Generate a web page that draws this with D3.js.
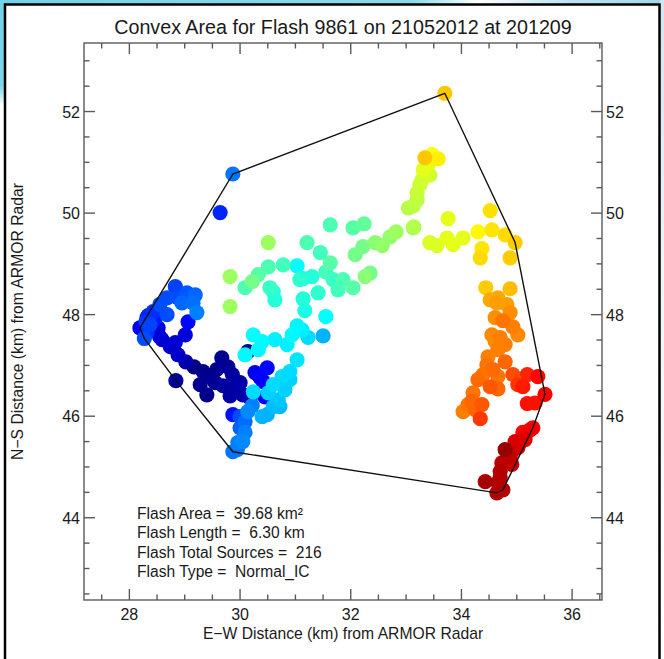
<!DOCTYPE html>
<html>
<head>
<meta charset="utf-8">
<script src="https://cdn.jsdelivr.net/npm/d3@7"></script>
<style>
  html, body { margin: 0; padding: 0; background: #fff; }
  svg { display: block; font-family: "Liberation Sans", Arial, Helvetica, sans-serif; }
</style>
</head>
<body>
<svg id="chart" width="664" height="659"></svg>
<script>
// VHF source locations of the flash (km east / north of the radar) and their relative time in the flash
const eastKm = [29.17,29.33,29.46,29.55,29.67,29.78,29.69,29.40,28.84,29.91,
  30.05,30.14,29.02,29.86,30.00,30.18,29.82,28.88,28.74,28.83,
  28.55,28.59,28.52,28.19,28.32,30.27,30.42,30.45,30.36,30.49,
  29.06,29.87,28.43,28.32,28.68,28.27,28.83,28.68,28.95,29.04,
  29.19,29.15,29.22,28.30,28.37,28.34,28.55,29.64,29.87,30.00,
  30.14,30.09,30.05,29.96,29.95,29.87,30.00,30.22,30.40,30.49,
  30.60,30.72,30.69,30.60,30.76,30.90,31.03,30.24,30.85,30.63,
  30.33,30.09,30.24,30.40,31.23,31.50,31.12,31.03,31.55,30.81,
  30.90,30.51,31.03,30.94,31.14,31.30,31.41,31.14,31.17,30.60,
  30.63,31.08,31.68,30.51,30.33,30.22,30.09,30.78,30.54,31.77,
  31.86,32.04,31.63,31.21,31.45,31.63,32.04,32.24,32.35,32.26,
  32.08,32.22,32.44,32.57,32.82,32.71,33.13,33.04,33.13,33.20,
  33.29,33.43,33.31,33.47,33.58,33.34,33.25,33.14,30.51,29.82,
  29.82,33.56,33.74,33.76,33.85,34.03,33.43,33.70,34.30,34.52,
  34.55,34.79,34.97,34.37,34.34,34.88,34.44,34.88,34.66,34.64,
  34.82,34.88,34.61,34.75,34.93,35.02,34.70,34.61,34.66,34.48,
  34.46,34.79,34.39,34.66,34.52,34.66,34.21,34.19,34.37,34.03,
  34.25,34.34,34.93,35.02,35.11,35.19,35.38,35.51,35.33,35.19,
  35.11,35.24,35.15,35.06,34.97,34.79,34.84,34.73,34.91,34.70,
  34.43,34.66,34.64,34.75,35.29,34.91,35.02,29.01,29.28,29.58,
  28.46,28.88,28.27,34.52,34.55,34.79,34.30,34.12,34.57,33.40,
  33.20,35.15,34.88,34.70,30.09,31.55];

const northKm = [46.97,46.88,46.78,46.66,47.15,46.97,46.60,46.42,46.70,46.58,
  46.42,47.27,47.07,46.82,46.66,46.36,46.40,47.21,47.37,47.45,
  47.56,47.51,47.74,47.74,47.94,46.86,46.68,46.38,46.76,46.95,
  47.86,46.03,48.06,47.64,48.00,47.53,48.55,48.33,48.23,48.43,
  48.39,48.23,48.04,47.86,47.80,47.98,48.20,50.01,50.77,45.99,
  46.09,45.68,45.50,45.48,45.34,45.30,45.77,46.21,45.99,46.03,
  46.19,46.19,46.32,46.62,46.78,46.88,47.11,46.48,47.41,47.51,
  47.31,47.21,47.60,47.47,47.55,47.58,47.70,47.78,47.96,46.52,
  46.72,46.46,48.96,47.60,48.71,48.75,48.43,48.31,48.08,48.45,
  48.29,48.69,48.69,48.94,48.79,48.65,48.53,48.98,48.53,48.49,
  48.69,48.53,49.77,49.42,49.22,49.02,49.71,49.79,48.82,48.75,
  49.18,49.34,49.42,49.36,49.63,49.53,49.71,50.10,50.14,50.40,
  50.66,50.75,50.85,51.15,51.07,51.09,50.56,49.73,49.42,48.75,
  48.16,49.36,49.51,49.89,49.38,49.51,49.42,52.36,49.63,50.05,
  49.67,49.57,49.42,49.30,49.12,49.12,48.53,48.51,48.33,48.23,
  48.20,48.04,47.94,47.88,47.76,47.60,47.55,47.47,47.31,47.17,
  47.01,47.07,46.82,46.78,46.58,46.54,46.46,46.29,46.23,46.09,
  46.13,45.95,46.82,46.62,46.58,46.82,46.78,46.43,46.26,46.25,
  45.68,45.73,45.54,45.48,45.50,45.34,45.20,45.08,45.05,44.91,
  44.71,44.69,44.49,44.55,45.77,45.30,45.38,47.60,46.62,46.92,
  47.90,48.33,47.70,48.29,47.60,47.41,46.72,46.23,46.92,50.95,
  50.26,45.62,45.18,44.79,45.89,48.84];

const timeFrac = [0.00,0.01,0.015,0.02,0.02,0.025,0.03,0.01,0.03,0.035,
  0.04,0.02,0.045,0.03,0.04,0.05,0.035,0.07,0.075,0.08,
  0.085,0.085,0.09,0.10,0.11,0.11,0.115,0.12,0.12,0.13,
  0.13,0.14,0.17,0.17,0.20,0.20,0.19,0.20,0.225,0.21,
  0.225,0.235,0.25,0.18,0.19,0.16,0.20,0.16,0.24,0.20,
  0.26,0.25,0.26,0.25,0.24,0.24,0.22,0.25,0.30,0.30,
  0.31,0.31,0.32,0.34,0.34,0.34,0.35,0.34,0.36,0.36,
  0.37,0.37,0.375,0.37,0.34,0.30,0.36,0.365,0.375,0.33,
  0.33,0.33,0.375,0.37,0.40,0.41,0.42,0.41,0.40,0.41,
  0.41,0.42,0.43,0.45,0.46,0.49,0.45,0.44,0.43,0.44,
  0.45,0.46,0.45,0.45,0.44,0.46,0.46,0.47,0.49,0.51,
  0.49,0.49,0.51,0.52,0.53,0.52,0.53,0.55,0.56,0.57,
  0.58,0.58,0.60,0.62,0.64,0.68,0.575,0.55,0.53,0.53,
  0.53,0.59,0.60,0.60,0.60,0.60,0.59,0.68,0.63,0.655,
  0.65,0.66,0.675,0.65,0.66,0.675,0.675,0.69,0.71,0.72,
  0.72,0.735,0.735,0.76,0.75,0.74,0.75,0.74,0.75,0.75,
  0.76,0.775,0.76,0.76,0.79,0.775,0.76,0.775,0.79,0.75,
  0.775,0.82,0.80,0.825,0.85,0.84,0.87,0.88,0.86,0.86,
  0.87,0.89,0.90,0.91,0.91,0.975,0.94,0.94,0.93,0.95,
  0.96,0.95,0.95,0.95,0.88,0.92,0.91,0.09,0.02,0.015,
  0.15,0.20,0.12,0.71,0.74,0.75,0.77,0.76,0.77,0.60,
  0.56,0.89,0.93,0.95,0.23,0.44];

const xTicks = [28, 30, 32, 34, 36];
const yTicks = [44, 46, 48, 50, 52];
const minorStep = 0.5;
const xDomain = [27.18, 36.54];
const yDomain = [42.38, 53.35];

const flashId = "9861", flashDate = "21052012", flashTime = "201209";
const flashArea = "39.68";
const flashLength = "6.30";
const flashType = "Normal_IC";

const W = 664, H = 659;
const plot = { left: 84, right: 602, top: 43, bottom: 600 };

const svg = d3.select("#chart");

// slide backdrop around the white panel
const defs = svg.append("defs");
const gTop = defs.append("linearGradient").attr("id", "topStrip").attr("x1", 0).attr("x2", 1);
gTop.append("stop").attr("offset", 0).attr("stop-color", "#72d2e6");
gTop.append("stop").attr("offset", 0.62).attr("stop-color", "#8adbe9");
gTop.append("stop").attr("offset", 0.72).attr("stop-color", "#ffffff");
gTop.append("stop").attr("offset", 0.85).attr("stop-color", "#bfe3f0");
gTop.append("stop").attr("offset", 1).attr("stop-color", "#9fd9ea");
const gLeft = defs.append("linearGradient").attr("id", "leftStrip").attr("x1", 0).attr("x2", 0).attr("y1", 0).attr("y2", 1);
gLeft.append("stop").attr("offset", 0).attr("stop-color", "#72d2e6");
gLeft.append("stop").attr("offset", 0.13).attr("stop-color", "#7fd6e8");
gLeft.append("stop").attr("offset", 0.16).attr("stop-color", "#ffffff");
gLeft.append("stop").attr("offset", 1).attr("stop-color", "#ffffff");
const gRight = defs.append("linearGradient").attr("id", "rightStrip").attr("x1", 0).attr("x2", 0).attr("y1", 0).attr("y2", 1);
gRight.append("stop").attr("offset", 0).attr("stop-color", "#cfe6f0");
gRight.append("stop").attr("offset", 0.4).attr("stop-color", "#eef3f6");
gRight.append("stop").attr("offset", 1).attr("stop-color", "#ffffff");

svg.append("rect").attr("width", W).attr("height", H).attr("fill", "#fff");
svg.append("rect").attr("x", 0).attr("y", 0).attr("width", W).attr("height", 5).attr("fill", "url(#topStrip)");
svg.append("rect").attr("x", 0).attr("y", 0).attr("width", 5).attr("height", H).attr("fill", "url(#leftStrip)");
svg.append("rect").attr("x", 660).attr("y", 0).attr("width", 4).attr("height", H).attr("fill", "url(#rightStrip)");
svg.append("rect").attr("x", 5).attr("y", 4.5).attr("width", 654.5).attr("height", H + 20)
  .attr("fill", "#fff").attr("stroke", "#000").attr("stroke-width", 2.5);

const x = d3.scaleLinear().domain(xDomain).range([plot.left, plot.right]);
const y = d3.scaleLinear().domain(yDomain).range([plot.bottom, plot.top]);

// jet colour table, indexed by time within the flash
function jet(t) {
  const c = v => Math.max(0, Math.min(1, v));
  return d3.rgb(255 * c(1.5 - Math.abs(4 * t - 3)),
                255 * c(1.5 - Math.abs(4 * t - 2)),
                255 * c(1.5 - Math.abs(4 * t - 1)));
}

const sources = eastKm.map((e, i) => ({ e, n: northKm[i], t: timeFrac[i] }))
  .sort((a, b) => a.t - b.t);

const plotG = svg.append("g");
plotG.selectAll("circle.src").data(sources).join("circle")
  .attr("class", "src")
  .attr("cx", d => x(d.e))
  .attr("cy", d => y(d.n))
  .attr("r", 7.6)
  .attr("fill", d => jet(d.t));

// convex hull of all sources
const hull = d3.polygonHull(sources.map(d => [d.e, d.n]));
plotG.append("path")
  .attr("d", d3.line().x(p => x(p[0])).y(p => y(p[1])).curve(d3.curveLinearClosed)(hull))
  .attr("fill", "none").attr("stroke", "#111").attr("stroke-width", 1.4);

// frame with inward ticks on all four sides
const axisColor = "#5a5a5a";
const majLen = 11, minLen = 5.5;
const axG = svg.append("g").attr("stroke", axisColor).attr("stroke-width", 1.4);
axG.append("rect").attr("x", plot.left).attr("y", plot.top)
  .attr("width", plot.right - plot.left).attr("height", plot.bottom - plot.top).attr("fill", "none");

function minorVals(domain, majors) {
  const out = [];
  const start = Math.ceil(domain[0] / minorStep) * minorStep;
  for (let v = start; v <= domain[1] + 1e-9; v += minorStep) {
    if (!majors.some(m => Math.abs(m - v) < 1e-6)) out.push(+v.toFixed(2));
  }
  return out;
}
const xMinor = minorVals(xDomain, xTicks), yMinor = minorVals(yDomain, yTicks);

[[xTicks, majLen], [xMinor, minLen]].forEach(([vals, len]) => {
  vals.forEach(v => {
    axG.append("line").attr("x1", x(v)).attr("x2", x(v)).attr("y1", plot.bottom).attr("y2", plot.bottom - len);
    axG.append("line").attr("x1", x(v)).attr("x2", x(v)).attr("y1", plot.top).attr("y2", plot.top + len);
  });
});
[[yTicks, majLen], [yMinor, minLen]].forEach(([vals, len]) => {
  vals.forEach(v => {
    axG.append("line").attr("y1", y(v)).attr("y2", y(v)).attr("x1", plot.left).attr("x2", plot.left + len);
    axG.append("line").attr("y1", y(v)).attr("y2", y(v)).attr("x1", plot.right).attr("x2", plot.right - len);
  });
});

const txt = "#1a1a1a";
const labG = svg.append("g").attr("fill", txt).attr("font-size", 16);
xTicks.forEach(v => {
  labG.append("text").attr("x", x(v)).attr("y", plot.bottom + 19.5).attr("text-anchor", "middle").text(v);
});
yTicks.forEach(v => {
  labG.append("text").attr("x", plot.left - 4).attr("y", y(v) + 6).attr("text-anchor", "end").text(v);
  labG.append("text").attr("x", plot.right + 4).attr("y", y(v) + 6).attr("text-anchor", "start").text(v);
});

svg.append("text").attr("x", (plot.left + plot.right) / 2).attr("y", 34)
  .attr("text-anchor", "middle").attr("font-size", 19.7).attr("fill", txt)
  .text(`Convex Area for Flash ${flashId} on ${flashDate} at ${flashTime}`);

svg.append("text").attr("x", (plot.left + plot.right) / 2).attr("y", 639)
  .attr("text-anchor", "middle").attr("font-size", 15.7).attr("fill", txt)
  .text("E\u2212W Distance (km) from ARMOR Radar");

svg.append("text").attr("transform", `translate(23,${(plot.top + plot.bottom) / 2}) rotate(-90)`)
  .attr("text-anchor", "middle").attr("font-size", 15.7).attr("fill", txt)
  .text("N\u2212S Distance (km) from ARMOR Radar");

// flash statistics
const stats = [
  `Flash Area =  ${flashArea} km\u00B2`,
  `Flash Length =  ${flashLength} km`,
  `Flash Total Sources =  ${sources.length}`,
  `Flash Type =  ${flashType}`
];
svg.append("g").selectAll("text").data(stats).join("text")
  .attr("x", 137).attr("y", (d, i) => 518.5 + i * 19.5)
  .attr("font-size", 15.6).attr("fill", txt)
  .style("white-space", "pre")
  .text(d => d);
</script>
</body>
</html>
